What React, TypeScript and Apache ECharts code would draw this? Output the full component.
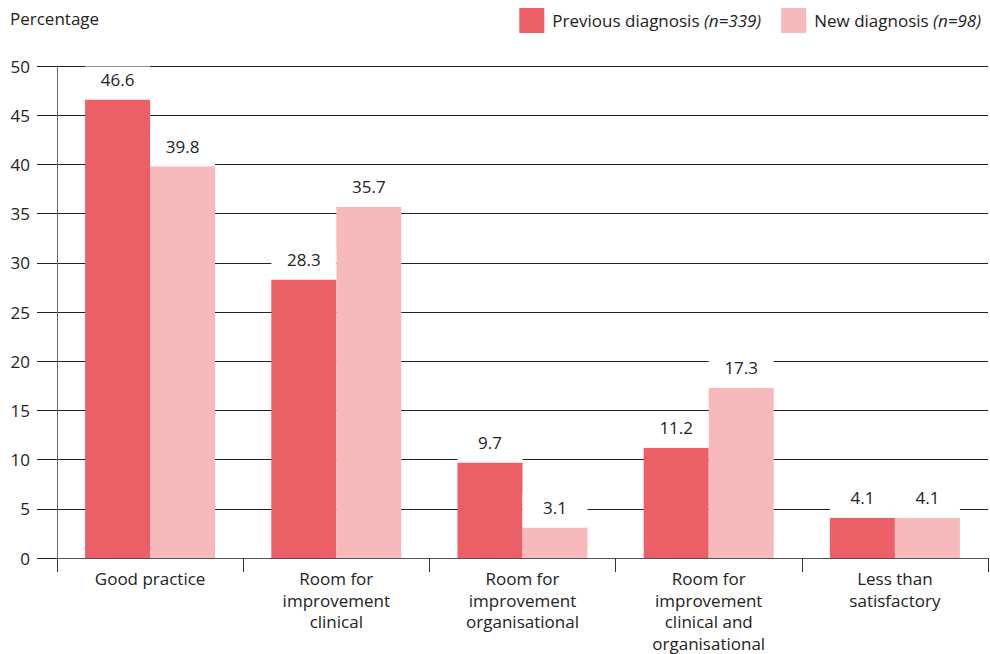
import React, { useEffect, useRef } from "react";
import * as echarts from "echarts";

const categories = [
  "Good practice",
  "Room for\nimprovement\nclinical",
  "Room for\nimprovement\norganisational",
  "Room for\nimprovement\nclinical and\norganisational",
  "Less than\nsatisfactory",
];
const previousDiagnosis = [46.6, 28.3, 9.7, 11.2, 4.1];
const newDiagnosis = [39.8, 35.7, 3.1, 17.3, 4.1];
const seriesNames = ["Previous diagnosis", "New diagnosis"];
const seriesN = ["(n=339)", "(n=98)"];
const colors = ["#EC5F67", "#F6BABD"];

const FONT = "Open Sans";
const FS = 17;

export default function App() {
  const ref = useRef<HTMLDivElement>(null);
  useEffect(() => {
    if (!ref.current) return;
    const chart = echarts.init(ref.current, null, { renderer: "svg" });
    const label = {
      show: true,
      position: "top" as const,
      distance: 0,
      color: "#222",
      fontFamily: FONT,
      fontSize: FS,
      lineHeight: 20,
      backgroundColor: "#fff",
      width: 65,
      align: "center" as const,
      padding: [3, 0, 10, 0],
      formatter: (p: any) => p.value.toFixed(1),
    };
    chart.setOption({
      animation: false,
      textStyle: { fontFamily: FONT },
      graphic: [
        {
          type: "text",
          left: 10,
          top: 10,
          style: { text: "Percentage", fill: "#222", font: `${FS}px "${FONT}"` },
        },
      ],
      legend: {
        top: 3,
        right: 4,
        itemWidth: 25,
        itemHeight: 25,
        itemGap: 20,
        icon: "rect",
        textStyle: {
          color: "#222",
          fontFamily: FONT,
          fontSize: FS,
          padding: [0, 0, 0, 3],
          rich: { i: { fontStyle: "italic", fontFamily: FONT, fontSize: FS, color: "#222" } },
        },
        formatter: (name: string) => `${name} {i|${seriesN[seriesNames.indexOf(name)]}}`,
        data: seriesNames,
      },
      grid: { left: 57, right: 2, top: 66, bottom: 96, containLabel: false },
      xAxis: {
        type: "category",
        data: categories,
        axisLine: { lineStyle: { color: "#555", width: 1 } },
        axisTick: { show: true, length: 14, lineStyle: { color: "#333" } },
        axisLabel: {
          color: "#222",
          fontFamily: FONT,
          fontSize: FS,
          lineHeight: 21.5,
          margin: 10,
          interval: 0,
        },
      },
      yAxis: {
        type: "value",
        min: 0,
        max: 50,
        interval: 5,
        axisLine: { show: true, lineStyle: { color: "#666" } },
        axisTick: { show: true, inside: false, length: 20, lineStyle: { color: "#222" } },
        splitLine: { show: true, lineStyle: { color: "#222", width: 1 } },
        axisLabel: { color: "#222", fontFamily: FONT, fontSize: FS, margin: 27 },
      },
      series: [
        {
          name: seriesNames[0],
          type: "bar",
          data: previousDiagnosis,
          barWidth: 65,
          barGap: "0%",
          itemStyle: { color: colors[0] },
          label,
        },
        {
          name: seriesNames[1],
          type: "bar",
          data: newDiagnosis,
          barWidth: 65,
          barGap: "0%",
          itemStyle: { color: colors[1] },
          label,
        },
      ],
    });
    return () => chart.dispose();
  }, []);
  return <div ref={ref} style={{ width: 990, height: 654, position: "absolute", left: 0, top: 0 }} />;
}
